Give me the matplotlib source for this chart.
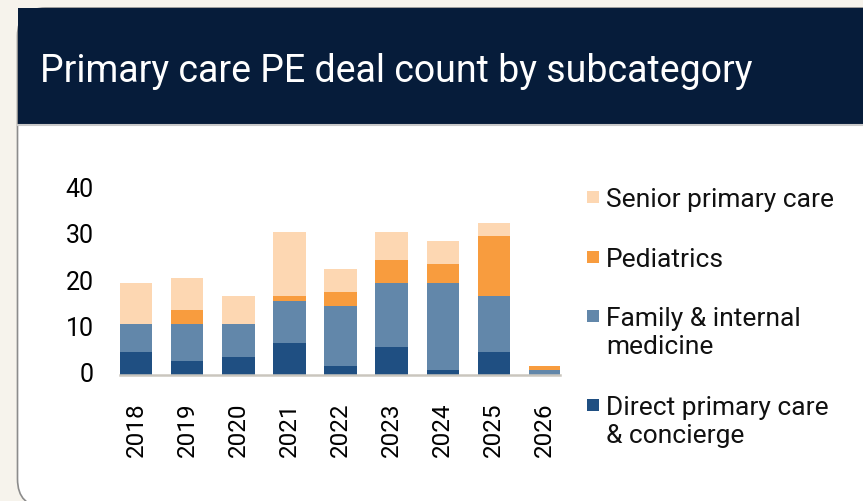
import matplotlib
matplotlib.use("Agg")
import matplotlib.pyplot as plt
import matplotlib.patches as mpatches
from matplotlib.transforms import IdentityTransform, ScaledTranslation
import numpy as np

# --- dados ---
anos = ["2018", "2019", "2020", "2021", "2022", "2023", "2024", "2025", "2026"]
direct_concierge = [5, 3, 4, 7, 2, 6, 1, 5, 0]
family_internal = [6, 8, 7, 9, 13, 14, 19, 12, 1]
pediatrics = [0, 3, 0, 1, 3, 5, 4, 13, 1]
senior_primary = [9, 7, 6, 14, 5, 6, 5, 3, 0]

series_labels = ["Direct primary care\n& concierge", "Family & internal\nmedicine",
                 "Pediatrics", "Senior primary care"]
series_values = [direct_concierge, family_internal, pediatrics, senior_primary]
series_colors = ["#1f4f82", "#6287aa", "#f89c3e", "#fdd7b2"]

W, H = 863, 502
NAVY = "#061c3a"
PAGE = "#f6f3ec"
FONT = ["Roboto", "DejaVu Sans"]
plt.rcParams["font.family"] = FONT


def fx(px):
    return px / W


def fy(py):
    return 1 - py / H


fig = plt.figure(figsize=(W / 100, H / 100), dpi=100)
fig.patch.set_facecolor(PAGE)

# cartão branco com canto arredondado e cabeçalho escuro
card = mpatches.FancyBboxPatch((17.5, -6), 1000, H - 9 + 6,
                               boxstyle="round,pad=0,rounding_size=28",
                               transform=IdentityTransform(),
                               facecolor="white", edgecolor="#8c8c8c", lw=1.2, zorder=-3)
fig.patches.append(card)
header = mpatches.Rectangle((17.5, H - 125), 1000, 116, transform=IdentityTransform(),
                            facecolor=NAVY, edgecolor="none", zorder=-2)
fig.patches.append(header)
fig.add_artist(plt.Line2D([fx(17.5), 1], [fy(126), fy(126)], color="#c9c9c9", lw=1.5,
                          zorder=-1))

fig.text(fx(40), fy(82), "Primary care PE deal count by subcategory",
         color="white", fontsize=27, va="baseline", ha="left")

# --- eixo ---
ax = fig.add_axes([fx(120), fy(376), fx(560) - fx(120), fy(191.2) - fy(376)])
ax.set_facecolor("none")
ax.set_zorder(2)
x = np.arange(len(anos))
bottom = np.zeros(len(anos))
for vals, cor in zip(series_values, series_colors):
    ax.bar(x, vals, width=0.63, bottom=bottom, color=cor, linewidth=0, zorder=2)
    bottom += np.array(vals)

ax.set_xlim(-0.32, 8.30)
ax.set_ylim(0, 40)
ax.set_yticks([0, 10, 20, 30, 40])
ax.set_xticks(x)
ax.set_xticklabels(anos, rotation=90, va="top", ha="center")
ax.tick_params(axis="y", length=0, pad=19, labelsize=18)
ax.tick_params(axis="x", length=0, pad=19, labelsize=17.5)
# rótulos do eixo y ligeiramente acima da marca, como no original
deslocamento = ScaledTranslation(0, 3.5 / 100, fig.dpi_scale_trans)
for lbl in ax.get_yticklabels():
    lbl.set_transform(lbl.get_transform() + deslocamento)
for lado in ["top", "right", "left"]:
    ax.spines[lado].set_visible(False)
ax.spines["bottom"].set_color("#cac6be")
ax.spines["bottom"].set_linewidth(1.8)
ax.spines["bottom"].set_zorder(3)

# --- legenda manual (ordem invertida, como no original) ---
leg_y = [198, 258, 317, 406]
for (label, cor), yc in zip(reversed(list(zip(series_labels, series_colors))), leg_y):
    fig.patches.append(mpatches.Rectangle((587, H - yc - 6), 12, 12,
                                          transform=IdentityTransform(),
                                          facecolor=cor, edgecolor="none"))
    for i, linha in enumerate(label.split("\n")):
        fig.text(fx(606), fy(yc + 9 + 28 * i), linha, fontsize=19,
                 color="#111111", va="baseline", ha="left")

fig.savefig("out.png", dpi=100, facecolor=PAGE)
plt.close(fig)
